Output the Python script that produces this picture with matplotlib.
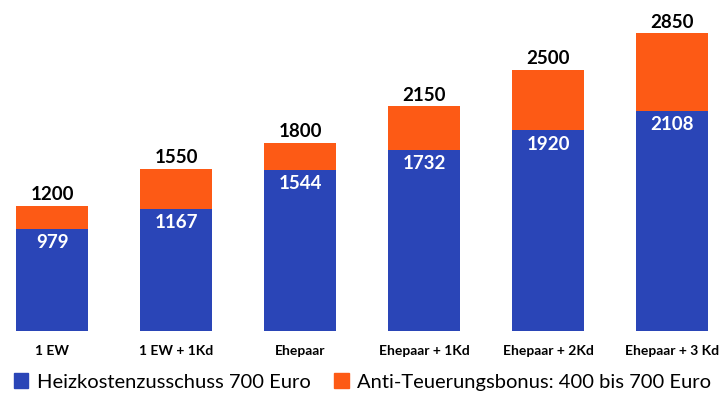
import numpy as np
import matplotlib.pyplot as plt
from matplotlib.patches import Patch

plt.rcParams['font.family'] = ['Lato', 'DejaVu Sans']

categories = ['1 EW', '1 EW + 1Kd', 'Ehepaar', 'Ehepaar + 1Kd', 'Ehepaar + 2Kd', 'Ehepaar + 3 Kd']
heizkosten = [979, 1167, 1544, 1732, 1920, 2108]
totals = [1200, 1550, 1800, 2150, 2500, 2850]
bonus = [t - h for t, h in zip(totals, heizkosten)]

blue = '#2a45b7'
orange = '#fd5a15'

fig = plt.figure(figsize=(7.25, 4), dpi=100)
ax = fig.add_axes([0.012, 0.1725, 0.975, 0.81])

x = np.arange(len(categories))
ax.bar(x, heizkosten, width=0.58, color=blue)
ax.bar(x, bonus, width=0.58, bottom=heizkosten, color=orange)

for xi, h, t in zip(x, heizkosten, totals):
    ax.text(xi, h - 50, str(h), ha='center', va='top', color='white',
            fontsize=13.5, fontweight='bold')
    ax.text(xi, t + 25, str(t), ha='center', va='bottom', color='black',
            fontsize=13.5, fontweight='bold')

ax.set_xlim(-0.35, 5.35)
ax.set_ylim(0, 3100)
ax.set_xticks(x)
ax.set_xticklabels(categories, fontsize=10, fontweight='bold')
ax.tick_params(axis='x', length=0, pad=10)
ax.set_yticks([])
for s in ax.spines.values():
    s.set_visible(False)

handles = [Patch(color=blue), Patch(color=orange)]
fig.legend(handles, ['Heizkostenzusschuss 700 Euro', 'Anti-Teuerungsbonus: 400 bis 700 Euro'],
           loc='center', bbox_to_anchor=(0.5, 0.045), ncol=2, frameon=False,
           fontsize=14.5, handlelength=0.7, handleheight=0.7, handletextpad=0.4,
           columnspacing=1.2)

fig.savefig('out.png', dpi=100)
